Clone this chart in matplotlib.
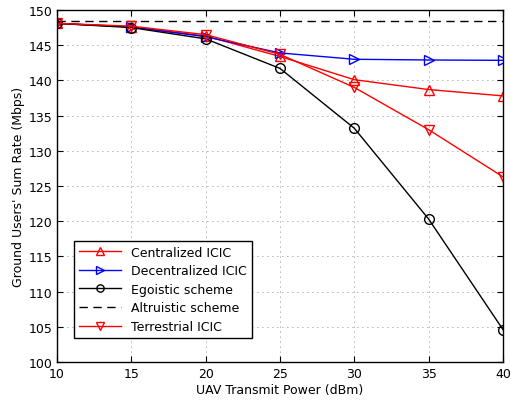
import matplotlib.pyplot as plt

power = [10, 15, 20, 25, 30, 35, 40]
centralized = [148.1, 147.6, 146.3, 143.4, 140.1, 138.7, 137.8]
decentralized = [148.1, 147.6, 146.2, 143.9, 143.0, 142.9, 142.85]
egoistic = [148.1, 147.5, 145.9, 141.7, 133.2, 120.3, 104.6]
altruistic = [148.4] * len(power)
terrestrial = [148.1, 147.7, 146.5, 143.7, 139.0, 133.0, 126.3]

plt.rcParams['font.size'] = 9

fig = plt.figure(figsize=(5.11, 4.02), dpi=100)
ax = fig.add_axes([57 / 511, 1 - 363 / 402, 446 / 511, 352 / 402])

mk = dict(markersize=7, markerfacecolor='none', linewidth=1.0, markeredgewidth=1.0)
ax.plot(power, centralized, color='red', marker='^', label='Centralized ICIC', **mk)
ax.plot(power, decentralized, color='blue', marker='>', label='Decentralized ICIC', **mk)
ax.plot(power, egoistic, color='black', marker='o', label='Egoistic scheme', **mk)
ax.plot(power, altruistic, color='black', linestyle=(0, (6, 4)), linewidth=1.0, label='Altruistic scheme')
ax.plot(power, terrestrial, color='red', marker='v', label='Terrestrial ICIC', **mk)

ax.set_xlim(10, 40)
ax.set_ylim(100, 150)
ax.set_xticks(range(10, 41, 5))
ax.set_yticks(range(100, 151, 5))
ax.grid(True, color='#666666', linestyle=(0, (1, 5)), linewidth=0.6)
ax.tick_params(direction='in', top=True, right=True, length=4)
for s in ax.spines.values():
    s.set_linewidth(1.0)

ax.set_xlabel('UAV Transmit Power (dBm)', labelpad=2)
ax.set_ylabel("Ground Users' Sum Rate (Mbps)", labelpad=2)

leg = ax.legend(loc='lower left', bbox_to_anchor=(0.038, 0.068), borderaxespad=0,
                fancybox=False, edgecolor='black', framealpha=1, handlelength=3.4,
                borderpad=0.4, labelspacing=0.45, markerscale=0.75, fontsize=9)
leg.get_frame().set_linewidth(1.0)

fig.savefig('out.png', dpi=100)
